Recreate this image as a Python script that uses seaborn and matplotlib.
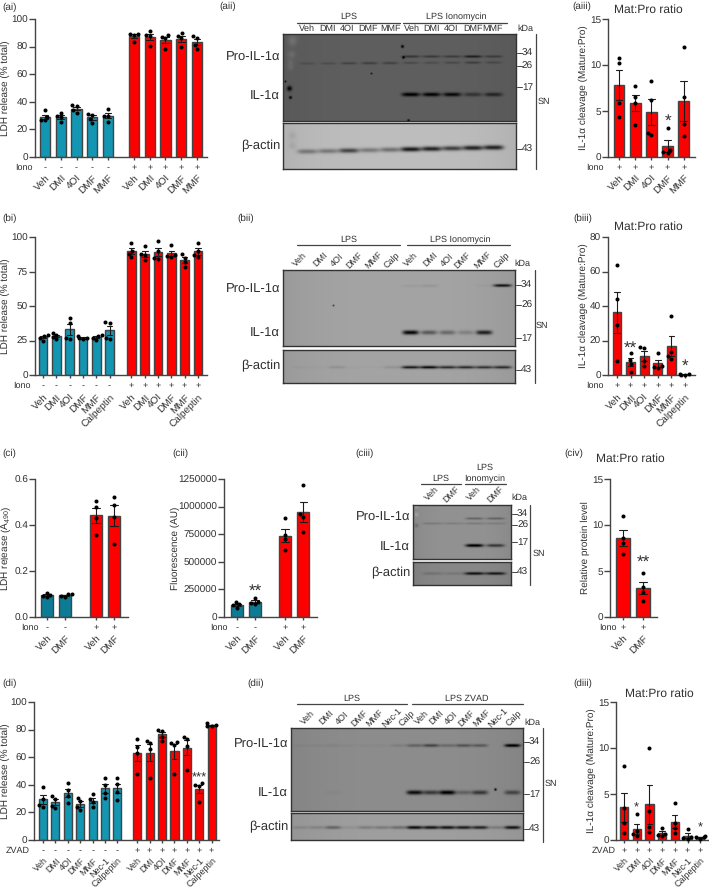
import numpy as np
import pandas as pd
import seaborn as sns
from matplotlib import pyplot as plt

# figure size in pixels, everything below is laid out in pixels of the final image
W, H = 709, 889

TEAL = '#1396b1'
TEAL_DARK = '#0b7b96'
RED = '#ff0000'
AXC = '#444444'
TXT = '#303030'

# replicate values
treat5 = ['Veh', 'DMI', '4OI', 'DMF', 'MMF']
treat6 = ['Veh', 'DMI', '4OI', 'DMF', 'MMF', 'Calpeptin']
treat7 = ['Veh', 'DMI', '4OI', 'DMF', 'MMF', 'Nec-1', 'Calpeptin']
treat2 = ['Veh', 'DMF']

ai_neg = [[34, 29, 26.5, 26.5], [32, 30, 29, 25.5], [37.5, 37, 34, 32], [31.5, 30.5, 27.5, 25], [34.5, 30, 30, 25.5]]
ai_pos = [[89, 89, 88.5, 83], [91.5, 88.5, 88, 80.5], [88.5, 87, 86, 78.5], [89.5, 88, 86, 79.5], [87.5, 86, 81, 78.5]]
aiii_pos = [[10.8, 10.2, 5.9, 4.4], [7.7, 6.5, 5.9, 3.5], [8.3, 6.2, 2.6, 2.4], [3.1, 0.75, 0.5, 0.4], [12, 6.5, 3.6, 2.3]]

bi_neg = [[29, 28.5, 27, 25], [30.5, 29, 27.5, 26], [41, 38, 27, 26], [28, 27, 26.5, 26], [29, 28, 27, 25.5], [38.5, 38, 27, 26]]
bi_pos = [[96, 90, 88, 85.5], [93.5, 88, 87, 83], [97, 90, 85, 84], [94, 87, 86, 85.5], [87.5, 85, 82, 78.5], [95.5, 90, 87, 85.5]]
biii_pos = [[64, 44, 29, 8], [13, 8.7, 6.4, 1.5], [16, 15.5, 8, 5], [13, 5, 4.5, 4.2], [34, 13.5, 11, 9.5], [0.5, 0.3, 0.2, 0.1]]

ci_neg = [[0.105, 0.095, 0.09, 0.085], [0.1, 0.1, 0.09, 0.085]]
ci_pos = [[0.504, 0.477, 0.432, 0.355], [0.523, 0.487, 0.436, 0.319]]
cii_neg = [[135000, 115000, 105000, 85000], [175000, 140000, 130000, 115000]]
cii_pos = [[894000, 743000, 703000, 607000], [1200000, 930000, 909000, 773000]]
civ_pos = [[11, 8.55, 8, 6.9], [4.8, 3.3, 2.7, 1.7]]

di_neg = [[38.3, 30, 25.3, 24], [32, 30, 25, 23], [41, 36, 32, 27], [30.5, 28, 24, 22], [33, 29.5, 27.5, 24], [45, 40, 34, 30.5], [45, 40.5, 35, 29]]
di_pos = [[73.5, 67.7, 63, 48], [72, 70, 66, 45], [80, 79, 75, 72], [71, 70, 68.5, 48], [75, 73, 68, 51], [41, 39.5, 39, 27.7], [82.5, 82.5, 83, 84.5]]
diii_pos = [[8, 3.5, 1.9, 0.8], [2.8, 1, 0.6, 0.4], [10, 3.2, 1.4, 0.9], [1.3, 0.7, 0.55, 0.4], [4, 1.8, 1.3, 0.8], [1.25, 0.35, 0.2, 0.1], [0.4, 0.35, 0.3, 0.15]]

ticks_100_20 = [0, 20, 40, 60, 80, 100]
ticks_100_25 = [0, 25, 50, 75, 100]
ticks_15 = [0, 5, 10, 15]
ticks_80 = [0, 20, 40, 60, 80]
ticks_06 = [0, 0.2, 0.4, 0.6]
ticks_125 = [0, 250000, 500000, 750000, 1000000, 1250000]

# lane intensities of the blots (0 = no band, 1 = black)
aii_pro = [0, 0, 0, 0, 0, .42, .38, .35, .65, .35]
aii_26 = [.15, .17, .28, .32, .3, .2, .18, .22, .32, .22]
aii_mature = [0, 0, 0, 0, 0, 1, .95, .9, .45, .6]
aii_actin = [.35, .35, .62, .35, .4, .85, .8, .65, .8, .8]
bii_pro = [0, 0, 0, 0, 0, 0, .05, .08, 0, 0, .03, .85]
bii_mature = [0, 0, 0, 0, 0, 0, .95, .45, .35, .2, .8, 0]
bii_actin = [.03, .02, .1, .02, .02, .1, .8, .9, .7, .7, .65, .7]
ciii_pro = [0, 0, .3, .3]
ciii_26 = [.15, .13, .15, .13]
ciii_mature = [0, 0, 1, .6]
ciii_actin = [.15, .12, .85, .8]
dii_pro = [.04, .04, .06, .03, .03, .03, .1, .3, .5, .25, .4, .35, 0, 1]
dii_mature = [0, 0, .03, 0, 0, 0, 0, .9, .6, 1, .3, .6, 0, .5]
dii_actin = [.12, .15, .35, .08, .2, .22, .3, .9, .85, .85, .8, .75, .2, .85]

sns.set_theme(style='ticks')
plt.rcParams['font.family'] = ['Liberation Sans', 'DejaVu Sans']
plt.rcParams['mathtext.default'] = 'regular'
plt.rcParams['text.hinting'] = 'no_hinting'
plt.rcParams['text.hinting_factor'] = 1

fig = plt.figure(figsize=(W / 100, H / 100), dpi=100)


def px_axes(left, top, right, bottom):
    return fig.add_axes([left / W, 1 - bottom / H, (right - left) / W, (bottom - top) / H])


def px_text(x, y, s, size=7, ha='center', va='center', **kw):
    fig.text(x / W, 1 - y / H, s, fontsize=size, ha=ha, va=va, color=TXT, **kw)


def px_line(x0, y0, x1, y1, lw=0.9, color=AXC):
    fig.add_artist(plt.Line2D([x0 / W, x1 / W], [1 - y0 / H, 1 - y1 / H], lw=lw, color=color))


def bar_panel(box, first, step, neg, pos, names, ticks, tick_labels, ylabel, ylabel_x,
              row_label, row_right, neg_color=TEAL, gap=1.65, stars=None, drop=14, name_size=6.9):
    left, top, right, bottom = box
    ax = px_axes(*box)
    rows = []
    slots = []
    signs = []
    slot = 0
    if neg is not None:
        for i, reps in enumerate(neg):
            rows += [{'slot': slot, 'value': v, 'group': 'neg'} for v in reps]
            slots.append(slot)
            signs.append('-')
            slot += 1
        slot += gap
        slot -= 1
    for i, reps in enumerate(pos):
        rows += [{'slot': slot, 'value': v, 'group': 'pos'} for v in reps]
        slots.append(slot)
        signs.append('+')
        slot += 1
    df = pd.DataFrame(rows)
    sns.barplot(data=df, x='slot', y='value', hue='group', palette={'neg': neg_color, 'pos': RED},
                native_scale=True, dodge=False, legend=False, width=0.66, saturation=1,
                errorbar='se', capsize=0.42, edgecolor=AXC, linewidth=1,
                err_kws={'color': '#1c1c1c', 'linewidth': 0.8}, ax=ax)
    sns.swarmplot(data=df, x='slot', y='value', native_scale=True, color='black', size=2.9,
                  zorder=4, clip_on=False, ax=ax)
    ax.set_xlim(-(first - left) / step, (right - first) / step)
    ax.set_ylim(ticks[0], ticks[-1])
    ax.set_yticks(ticks, labels=tick_labels)
    ax.set_xticks(slots, labels=signs)
    ax.set_xlabel('')
    ax.set_ylabel(ylabel, fontsize=7.2, color=TXT, va='center')
    ax.yaxis.set_label_coords((ylabel_x - left) / (right - left), 0.5)
    ax.tick_params(axis='y', labelsize=6.9, length=4, width=1, pad=1, color=AXC, labelcolor=TXT)
    ax.tick_params(axis='x', labelsize=6.8, length=2.2, width=1, pad=2.5, color=AXC, labelcolor=TXT)
    sns.despine(ax=ax)
    for side in ['left', 'bottom']:
        ax.spines[side].set_color(AXC)
        ax.spines[side].set_linewidth(1)
    for x, name in zip(slots, names):
        ax.annotate(name, xy=(x, 0), xycoords=('data', 'axes fraction'), xytext=(2.5, -drop),
                    textcoords='offset points', rotation=45, rotation_mode='anchor',
                    ha='right', va='center', fontsize=name_size, color=TXT, annotation_clip=False)
    px_text(row_right, bottom + 11, row_label, size=6.8, ha='right')
    for idx, label, y, size in stars or []:
        ax.text(slots[idx], y, label, fontsize=size, ha='center', va='center', color=TXT)
    return ax


def blot(box, bg, lane0, lane1, bands, marks=()):
    # bands: (y first lane, y last lane, half height, half width, lane intensities)
    left, top, right, bottom = box
    ax = px_axes(*box)
    xs = np.arange(left, right, 0.5)
    ys = np.arange(top, bottom, 0.5)
    X, Y = np.meshgrid(xs, ys)
    dark = np.zeros_like(X)
    for y0, y1, hh, hw, levels in bands:
        centres = np.linspace(lane0, lane1, len(levels))
        band_y = np.linspace(y0, y1, len(levels))
        for c, yb, lev in zip(centres, band_y, levels):
            dark += lev * np.exp(-((X - c) / hw) ** 4) * np.exp(-((Y - yb) / hh) ** 2)
    for mx, my, r, amount in marks:
        dark += amount * np.exp(-((X - mx) ** 2 + (Y - my) ** 2) / r ** 2)
    # film is a little darker at the edges
    shade = 1 - 0.06 * np.abs((X - (left + right) / 2) / ((right - left) / 2)) ** 3
    img = np.clip(bg * shade * (1 - np.clip(dark, -1, 1)), 0, 1)
    sns.heatmap(img, cmap='gray', vmin=0, vmax=1, cbar=False, xticklabels=False, yticklabels=False, ax=ax)
    ax.tick_params(length=0)
    for s in ax.spines.values():
        s.set_visible(True)
        s.set_color('#333333')
        s.set_linewidth(1)
    return ax


def markers(x0, items):
    for label, y in items:
        px_line(x0, y, x0 + 5, y, lw=0.7)
        px_text(x0 + 5, y, label, size=7, ha='left')


# panel labels
for lab, x, y in [('(ai)', 2, 7), ('(aii)', 219, 6), ('(aiii)', 572, 6),
                  ('(bi)', 2, 218), ('(bii)', 237, 218), ('(biii)', 573, 218),
                  ('(ci)', 2, 453), ('(cii)', 172, 453), ('(ciii)', 355, 453), ('(civ)', 564, 453),
                  ('(di)', 2, 683), ('(dii)', 247, 683), ('(diii)', 573, 683)]:
    px_text(x, y, lab, size=6.9, ha='left')

cleavage = 'IL-1α cleavage (Mature:Pro)'

# bar panels
bar_panel((35, 19, 207, 157), 45, 15.75, ai_neg, ai_pos, treat5 * 2, ticks_100_20, ticks_100_20,
          'LDH release (% total)', 5, 'Iono', 33)
bar_panel((608, 19, 695, 157), 619, 16.2, None, aiii_pos, treat5, ticks_15, ticks_15,
          cleavage, 583, 'Iono', 604, stars=[(3, '*', 3.9, 12)])
bar_panel((35, 237, 207, 375), 43, 13.3, bi_neg, bi_pos, treat6 * 2, ticks_100_25, ticks_100_25,
          'LDH release (% total)', 5, 'Iono', 31, drop=15)
bar_panel((608, 237, 695, 375), 617, 13.6, None, biii_pos, treat6, ticks_80, ticks_80,
          cleavage, 583, 'Iono', 604, stars=[(1, '**', 15.5, 12), (5, '*', 5, 12)], drop=15)
bar_panel((35, 479, 128, 617), 47, 18.4, ci_neg, ci_pos, treat2 * 2, ticks_06, ['0.0', '0.2', '0.4', '0.6'],
          'LDH release (A$_{490}$)', 6, 'Iono', 39, neg_color=TEAL_DARK)
bar_panel((224, 479, 317, 617), 237, 18.2, cii_neg, cii_pos, treat2 * 2, ticks_125, ticks_125,
          'Fluorescence (AU)', 175, 'Iono', 228, neg_color=TEAL_DARK,
          stars=[(1, '**', 235000, 12)])
bar_panel((610, 479, 657, 617), 623, 20, None, civ_pos, treat2, ticks_15, ticks_15,
          'Relative protein level', 585, 'Iono', 617, stars=[(1, '**', 5.9, 12)])
bar_panel((34, 702, 219, 840), 43, 12.4, di_neg, di_pos, treat7 * 2, ticks_100_20, ticks_100_20,
          'LDH release (% total)', 5, 'ZVAD', 30, gap=1.6, stars=[(12, '***', 45, 9)], name_size=6.4)
bar_panel((616, 702, 708, 840), 624, 12.7, None, diii_pos, treat7, ticks_15, ticks_15,
          cleavage, 591, 'ZVAD', 616, stars=[(1, '*', 3.5, 9), (6, '*', 1.25, 9)], name_size=6.4)

# ratio titles
for x, y in [(648, 10), (648, 227), (630, 459), (659, 694)]:
    px_text(x, y, 'Mat:Pro ratio', size=8.4)

lanes5 = treat5 * 2
lanes6 = ['Veh', 'DMI', '4OI', 'DMF', 'MMF', 'Calp'] * 2
lanes7 = ['Veh', 'DMI', '4OI', 'DMF', 'MMF', 'Nec-1', 'Calp'] * 2

# (aii)
blot((283, 34, 516, 121), 0.37, 307, 493,
     [(56, 56, 1.3, 9, aii_pro), (63, 62, 1.3, 8, aii_26), (94, 94, 2, 9, aii_mature)],
     marks=[(292, 38, 5, -.15), (292, 42, 4, -.15), (291, 54, 4, -.2), (290, 62, 3, -.15), (290, 67, 3, -.15),
            (402, 46, 1.5, 1), (403, 57, 1.3, 1), (289, 88, 2.5, 1), (290, 97, 1.5, 1), (408, 120, 1.3, 1),
            (371, 73, 1, .8), (285, 81, 1, .9)])
blot((283, 123, 516, 169), 0.74, 307, 493, [(151, 147, 2.4, 10, aii_actin)],
     marks=[(292, 135, 4, .08), (292, 145, 4, .08)])
px_line(297, 23, 400, 23)
px_line(403, 23, 507, 23)
px_text(349, 17, 'LPS', size=6.8)
px_text(456, 17, 'LPS Ionomycin', size=6.8)
for x, s in zip([307, 328, 347, 368, 391, 412, 432, 451, 473, 493], lanes5):
    px_text(x, 29, s, size=6.5)
px_text(525, 29, 'kDa', size=6.5)
markers(517, [('34', 53), ('26', 66), ('17', 87), ('43', 149)])
px_line(536, 34, 536, 169)
px_text(544, 102, 'SN', size=6.5)
px_text(280, 58, 'Pro-IL-1α', size=9, ha='right')
px_text(280, 97, 'IL-1α', size=9, ha='right')
px_text(280, 146, 'β-actin', size=9, ha='right')

# (bii)
blot((283, 270, 515, 346), 0.64, 300, 502,
     [(286, 285, 1.5, 9, bii_pro), (332, 332, 2.2, 8, bii_mature)],
     marks=[(333, 305, 1, .6)])
blot((283, 350, 515, 383), 0.64, 300, 502, [(367, 367, 1.8, 9, bii_actin)])
px_line(297, 245, 400, 245)
px_line(407, 245, 510, 245)
px_text(349, 240, 'LPS', size=6.8)
px_text(460, 240, 'LPS Ionomycin', size=6.8)
for x, s in zip([300, 320, 337, 355, 374, 392, 411, 430, 447, 463, 483, 502], lanes6):
    px_text(x, 260, s, size=6.6, rotation=45)
px_text(522, 264, 'kDa', size=6.5)
markers(516, [('34', 285), ('26', 305), ('17', 338), ('43', 370)])
px_line(535, 270, 535, 383)
px_text(542, 326, 'SN', size=6.5)
px_text(280, 290, 'Pro-IL-1α', size=9, ha='right')
px_text(280, 334, 'IL-1α', size=9, ha='right')
px_text(280, 366, 'β-actin', size=9, ha='right')

# (ciii)
blot((413, 505, 511, 559), 0.57, 432, 495,
     [(518, 518, 1.2, 9, ciii_pro), (523, 523, 1.2, 10, ciii_26), (545, 545, 1.6, 9, ciii_mature)],
     marks=[(416, 506, 2, -.15), (416, 514, 2, -.15), (416, 525, 2, .2)])
blot((413, 562, 511, 585), 0.53, 432, 495, [(573, 573, 1.5, 10, ciii_actin)])
px_line(421, 484, 461, 484)
px_line(465, 484, 506, 484)
px_text(441, 479, 'LPS', size=6.8)
px_text(485, 468, 'LPS', size=6.8)
px_text(485, 479, 'Ionomycin', size=6.8)
for x, s in zip([432, 452, 474, 496], ['Veh', 'DMF'] * 2):
    px_text(x, 494, s, size=6.6, rotation=45)
px_text(519, 498, 'kDa', size=6.5)
markers(512, [('34', 514), ('26', 525), ('17', 542), ('43', 572)])
px_line(530, 505, 530, 585)
px_text(539, 554, 'SN', size=6.5)
px_text(410, 518, 'Pro-IL-1α', size=9, ha='right')
px_text(410, 548, 'IL-1α', size=9, ha='right')
px_text(410, 573, 'β-actin', size=9, ha='right')

# (dii)
blot((291, 728, 523, 811), 0.55, 300, 512,
     [(745, 745, 1.6, 8, dii_pro), (792, 792, 2.2, 8, dii_mature)],
     marks=[(495, 789, 1.3, .9)])
blot((291, 813, 523, 840), 0.62, 300, 512, [(827, 827, 1.7, 8, dii_actin)])
px_line(297, 704, 407, 704)
px_line(412, 704, 523, 704)
px_text(352, 699, 'LPS', size=6.8)
px_text(467, 699, 'LPS ZVAD', size=6.8)
for x, s in zip([308, 326, 342, 360, 375, 392, 407, 422, 436, 451, 467, 482, 498, 514], lanes7):
    px_text(x, 718, s, size=6.6, rotation=45)
px_text(532, 723, 'kDa', size=6.5)
markers(524, [('34', 742), ('26', 762), ('17', 794), ('43', 829)])
px_line(543, 728, 543, 842)
px_text(551, 784, 'SN', size=6.5)
px_text(288, 745, 'Pro-IL-1α', size=9, ha='right')
px_text(288, 794, 'IL-1α', size=9, ha='right')
px_text(288, 827, 'β-actin', size=9, ha='right')

fig.savefig('out.png', dpi=100)
